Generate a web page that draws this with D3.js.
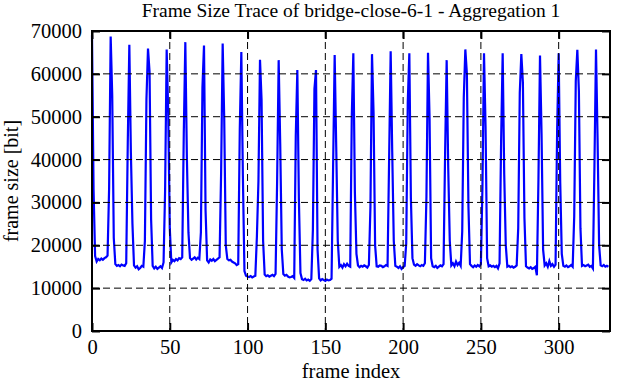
<!DOCTYPE html>
<html>
<head>
<meta charset="utf-8">
<script src="https://cdn.jsdelivr.net/npm/d3@7"></script>
<style>
  body { margin: 0; background: #fff; }
  text { font-family: "Liberation Serif", "DejaVu Serif", serif; fill: #000; }
</style>
</head>
<body>
<div id="chart"></div>
<script>
// frame sizes in bit, frame 0..332 (one row per GOP of 12 frames, starting at the I-frame)
const frameSizes = [
  69000, 33000, 17500, 16200, 16800, 16500, 16900, 16600, 17000, 17200, 17600, 33300,
  68700, 55000, 21700, 15600, 15200, 15400, 15100, 15500, 15300, 15200, 15800, 44000,
  66800, 41500, 25000, 15300, 14800, 15100, 14400, 14700, 15200, 15000, 21000, 54000,
  65900, 60500, 26000, 15200, 14600, 15000, 14500, 14800, 15100, 14700, 16000, 32800,
  65700, 51000, 24000, 16000, 16600, 16300, 16800, 16500, 17000, 16800, 17200, 46000,
  67400, 40300, 23000, 17000, 16600, 16900, 17200, 16700, 17100, 16800, 23000, 56800,
  66600, 28200, 16500, 16000, 16700, 16400, 16800, 16300, 16600, 16900, 17200, 36800,
  67100, 49600, 20000, 16800, 16500, 16600, 16200, 16000, 15800, 15400, 15600, 47000,
  65100, 36000, 14000, 12900, 12700, 12600, 12800, 12500, 12700, 12900, 22000, 35000,
  63300, 54000, 21000, 13200, 12800, 13000, 12700, 12900, 13100, 12800, 13300, 34700,
  63200, 43600, 19000, 13300, 12900, 13100, 12700, 12500, 12600, 12800, 12400, 45500,
  60900, 30700, 13500, 12100, 11900, 12200, 11800, 12000, 11700, 12100, 23600, 56500,
  60900, 19000, 12300, 11800, 12100, 11900, 11700, 12000, 11800, 11900, 12200, 38400,
  64400, 43000, 21000, 15000, 15400, 14800, 15600, 15100, 15700, 15200, 15000, 50000,
  64800, 32300, 18000, 15300, 14900, 15200, 15000, 15300, 15100, 14800, 15400, 29000,
  64600, 51000, 20000, 15100, 15000, 15300, 15200, 14900, 15100, 15400, 15200, 40000,
  65300, 41800, 21000, 15200, 15000, 14700, 15100, 14500, 14900, 15200, 20400, 53500,
  64800, 31000, 17000, 15500, 15200, 15600, 15300, 15100, 15400, 15200, 15800, 31400,
  64900, 49800, 17000, 15100, 14900, 15200, 14700, 15000, 15300, 15100, 15600, 41600,
  63200, 38100, 21000, 15300, 15800, 15100, 16200, 15400, 15900, 15200, 23200, 54400,
  65700, 60000, 29000, 15600, 15200, 14900, 15300, 15000, 15400, 15100, 15600, 33700,
  64800, 47700, 17000, 15100, 15300, 15000, 15200, 14900, 15200, 14600, 15800, 44300,
  64800, 36600, 20000, 15000, 15200, 14900, 15100, 14800, 15000, 15300, 24000, 55600,
  64600, 58000, 26300, 15100, 14800, 14600, 14900, 14500, 14700, 15000, 13000, 35300,
  64300, 46000, 19000, 15300, 15800, 15000, 16300, 15200, 15600, 15000, 15500, 46500,
  64800, 34700, 18000, 15200, 15000, 15300, 14900, 15100, 15400, 15000, 26800, 58300,
  65600, 56000, 24000, 15200, 15400, 15100, 15300, 15500, 15000, 15200, 14600, 38500,
  65700, 45100, 20000, 15300, 15100, 15400, 15000, 15200, 15000
];

const xTicks = [0, 50, 100, 150, 200, 250, 300];
const yTicks = [0, 10000, 20000, 30000, 40000, 50000, 60000, 70000];
const xMax = 333;
const yMax = 70000;

const chartTitle = "Frame Size Trace of bridge-close-6-1 - Aggregation 1";
const xTitle = "frame index";
const yTitle = "frame size [bit]";

class TracePlot {
  constructor(_config, _data) {
    this.config = {
      parentElement: _config.parentElement,
      containerWidth: _config.containerWidth || 617,
      containerHeight: _config.containerHeight || 382,
      margin: _config.margin || { top: 31, right: 7, bottom: 51, left: 92 }
    };
    this.data = _data;
    this.initVis();
  }

  initVis() {
    let vis = this;

    vis.width = vis.config.containerWidth - vis.config.margin.left - vis.config.margin.right;
    vis.height = vis.config.containerHeight - vis.config.margin.top - vis.config.margin.bottom;

    vis.xScale = d3.scaleLinear().domain([0, xMax]).range([0, vis.width]);
    vis.yScale = d3.scaleLinear().domain([0, yMax]).range([vis.height, 0]);

    vis.svg = d3.select(vis.config.parentElement)
      .append("svg")
      .attr("width", vis.config.containerWidth)
      .attr("height", vis.config.containerHeight);

    vis.chart = vis.svg.append("g")
      .attr("transform", `translate(${vis.config.margin.left},${vis.config.margin.top})`);

    vis.renderVis();
  }

  renderVis() {
    let vis = this;
    const tickLen = 8;
    const fontSize = 20.5;

    const line = d3.line()
      .x((d, i) => vis.xScale(i))
      .y(d => vis.yScale(d));

    vis.chart.append("path")
      .datum(vis.data)
      .attr("fill", "none")
      .attr("stroke", "#0000ff")
      .attr("stroke-width", 2.2)
      .attr("d", line);

    // dashed grid (drawn in front, gnuplot style)
    vis.chart.append("g").selectAll("line")
      .data(yTicks.filter(t => t > 0 && t < yMax))
      .join("line")
      .attr("x1", 0).attr("x2", vis.width)
      .attr("y1", d => vis.yScale(d)).attr("y2", d => vis.yScale(d))
      .attr("stroke", "#000").attr("stroke-width", 1)
      .attr("stroke-dasharray", "7,4");

    vis.chart.append("g").selectAll("line")
      .data(xTicks.filter(t => t > 0))
      .join("line")
      .attr("y1", 0).attr("y2", vis.height)
      .attr("x1", d => vis.xScale(d)).attr("x2", d => vis.xScale(d))
      .attr("stroke", "#000").attr("stroke-width", 1)
      .attr("stroke-dasharray", "7,4");

    // axes with inward ticks on all four sides
    const xAxis = d3.axisBottom(vis.xScale).tickValues(xTicks).tickSizeInner(-tickLen).tickSizeOuter(0).tickPadding(8);
    const xAxisTop = d3.axisTop(vis.xScale).tickValues(xTicks).tickSizeInner(-tickLen).tickSizeOuter(0).tickFormat("");
    const yAxis = d3.axisLeft(vis.yScale).tickValues(yTicks).tickSizeInner(-tickLen).tickSizeOuter(0).tickPadding(10).tickFormat(d3.format("d"));
    const yAxisRight = d3.axisRight(vis.yScale).tickValues(yTicks).tickSizeInner(-tickLen).tickSizeOuter(0).tickFormat("");

    const axes = [
      vis.chart.append("g").attr("transform", `translate(0,${vis.height})`).call(xAxis),
      vis.chart.append("g").call(xAxisTop),
      vis.chart.append("g").call(yAxis),
      vis.chart.append("g").attr("transform", `translate(${vis.width},0)`).call(yAxisRight)
    ];
    axes.forEach(g => {
      g.select(".domain").remove();
      g.selectAll(".tick line").attr("stroke", "#000").attr("stroke-width", 2);
      g.selectAll(".tick text").attr("font-family", "Liberation Serif").attr("font-size", fontSize).attr("fill", "#000");
    });

    vis.chart.append("rect")
      .attr("width", vis.width)
      .attr("height", vis.height)
      .attr("fill", "none")
      .attr("stroke", "#000")
      .attr("stroke-width", 2);

    vis.svg.append("text")
      .attr("x", vis.config.margin.left + vis.width / 2)
      .attr("y", 17)
      .attr("text-anchor", "middle")
      .attr("font-size", 19.5)
      .text(chartTitle);

    vis.svg.append("text")
      .attr("x", vis.config.margin.left + vis.width / 2)
      .attr("y", 378)
      .attr("text-anchor", "middle")
      .attr("font-size", fontSize)
      .text(xTitle);

    vis.svg.append("text")
      .attr("transform", `translate(18,${vis.config.margin.top + vis.height / 2}) rotate(-90)`)
      .attr("text-anchor", "middle")
      .attr("font-size", 20)
      .text(yTitle);
  }
}

new TracePlot({ parentElement: "#chart" }, frameSizes);
</script>
</body>
</html>
